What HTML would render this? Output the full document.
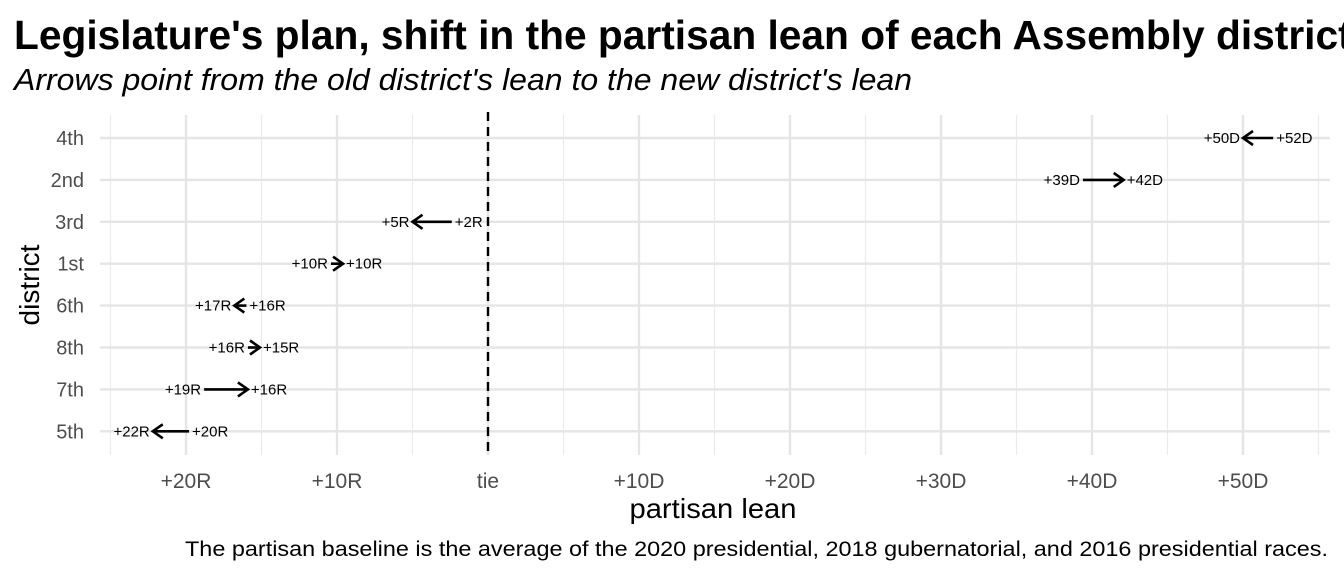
<!DOCTYPE html>
<html><head><meta charset="utf-8"><style>
body{margin:0;background:#fff;width:1344px;height:576px;overflow:hidden}
svg{font-family:"Liberation Sans",sans-serif}
</style></head><body>
<svg id="chart" width="1344" height="576" xmlns="http://www.w3.org/2000/svg">
<text x="14" y="49" font-size="40.7" font-weight="bold">Legislature's plan, shift in the partisan lean of each Assembly district</text>
<text x="14" y="90" font-size="31" font-style="italic" textLength="898" lengthAdjust="spacingAndGlyphs">Arrows point from the old district's lean to the new district's lean</text>
<g id="grid"></g><g id="marks"></g><g id="axes"></g>
<text x="713" y="518" font-size="28" text-anchor="middle" textLength="167" lengthAdjust="spacingAndGlyphs">partisan lean</text>
<text transform="translate(39,285) rotate(-90)" font-size="28" text-anchor="middle">district</text>
<text x="1328" y="556" font-size="21" text-anchor="end" textLength="1143" lengthAdjust="spacingAndGlyphs">The partisan baseline is the average of the 2020 presidential, 2018 gubernatorial, and 2016 presidential races.</text>
</svg>
<script>
const districts=["4th","2nd","3rd","1st","6th","8th","7th","5th"];
const oldLean=[52,39.4,-2.4,-10.4,-16.0,-15.9,-18.8,-19.8];
const newLean=[50,42.1,-5.0,-9.6,-16.8,-15.1,-15.9,-22.2];
const xTicks=[-20,-10,0,10,20,30,40,50];
const xTickLabels=["+20R","+10R","tie","+10D","+20D","+30D","+40D","+50D"];
const NS="http://www.w3.org/2000/svg";
const x=v=>488+v*15.1;
const y=i=>138+i*41.9;
function mk(tag,attrs,parent,txt){const e=document.createElementNS(NS,tag);for(const k in attrs)e.setAttribute(k,attrs[k]);if(txt!==undefined)e.textContent=txt;parent.appendChild(e);return e;}
const grid=document.getElementById('grid'),marks=document.getElementById('marks'),axes=document.getElementById('axes');
const L=100,R=1330,T=115,B=455;
for(let v=-25;v<=55;v+=10){const g=mk('line',{x1:x(v),x2:x(v),y1:T,y2:B,stroke:'#ebebeb','stroke-width':1.2},grid);

}
xTicks.forEach((v,i)=>{const g=mk('line',{x1:x(v),x2:x(v),y1:T,y2:B,stroke:'#e5e5e5','stroke-width':2.4},grid);


const t=mk('text',{x:x(v),y:488,'font-size':21,fill:'#4d4d4d','text-anchor':'middle'},axes,xTickLabels[i]);

});
districts.forEach((d,i)=>{const g=mk('line',{x1:L,x2:R,y1:y(i),y2:y(i),stroke:'#e5e5e5','stroke-width':2.4},grid);


const t=mk('text',{x:84,y:y(i)+7,'font-size':20,fill:'#4d4d4d','text-anchor':'end'},axes,d);

});
const tl=mk('line',{x1:x(0),x2:x(0),y1:T-3,y2:B,stroke:'#000','stroke-width':2.4,'stroke-dasharray':'9,6'},marks);


const lab=v=>'+'+Math.round(Math.abs(v))+(v<0?'R':'D');
districts.forEach((d,i)=>{const x0=x(oldLean[i]),x1=x(newLean[i]),yy=y(i),dir=x1>=x0?1:-1;
const g=mk('g',{},marks);


mk('line',{x1:x0,x2:x1,y1:yy,y2:yy,stroke:'#000','stroke-width':2.6},g);
mk('polyline',{points:`${x1-dir*10},${yy-7} ${x1},${yy} ${x1-dir*10},${yy+7}`,fill:'none',stroke:'#000','stroke-width':2.6},g);
const a=mk('text',{x:x0-dir*3,y:yy+5,'font-size':15,'text-anchor':dir>0?'end':'start'},g,lab(oldLean[i]));


const b=mk('text',{x:x1+dir*3,y:yy+5,'font-size':15,'text-anchor':dir>0?'start':'end'},g,lab(newLean[i]));

});
</script>
</body></html>
